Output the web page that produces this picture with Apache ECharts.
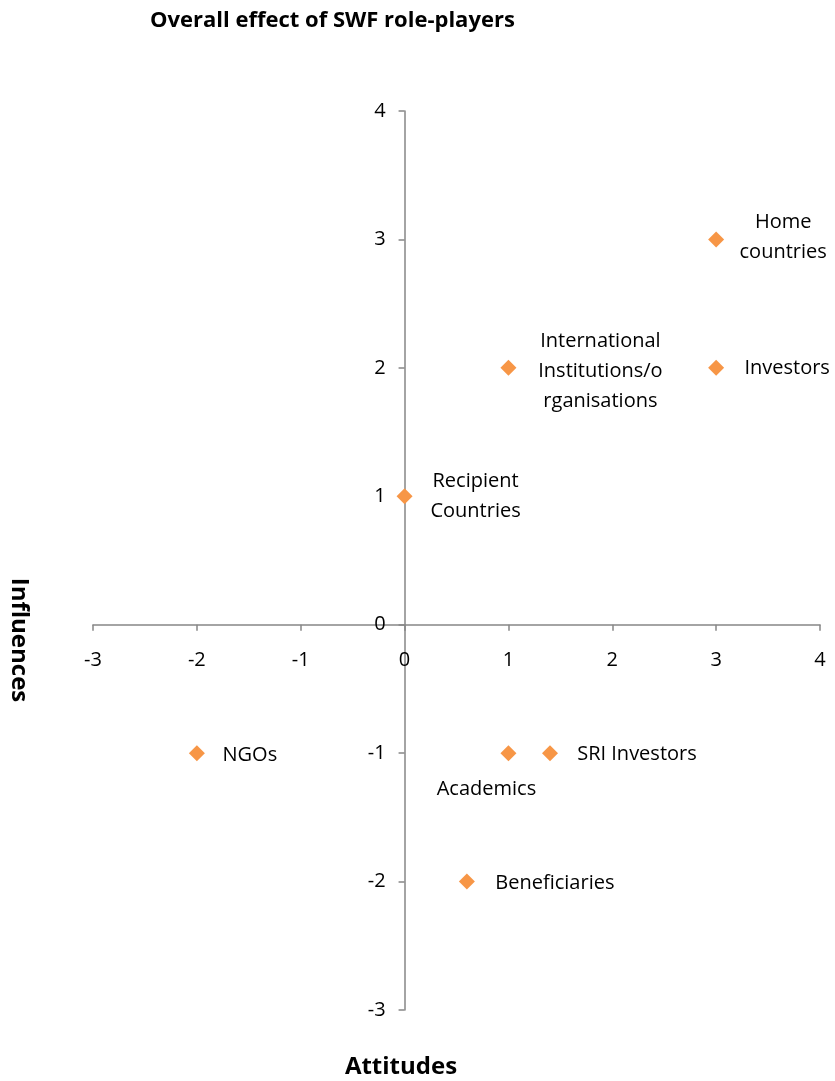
<!DOCTYPE html>
<html>
<head>
<meta charset="utf-8">
<script src="https://cdn.jsdelivr.net/npm/echarts@6/dist/echarts.min.js"></script>
<style>
  html, body { margin: 0; padding: 0; background: #fff; }
  #chart { width: 835px; height: 1081px; }
</style>
</head>
<body>
<div id="chart"></div>
<script>
// Role-players plotted by attitude (x) and influence (y)
const names = ['Home countries', 'Investors', 'International Institutions/o rganisations', 'Recipient Countries', 'NGOs', 'Academics', 'SRI Investors', 'Beneficiaries'];
const labelTexts = ['Home\ncountries', 'Investors', 'International\nInstitutions/o\nrganisations', 'Recipient\nCountries', 'NGOs', 'Academics', 'SRI Investors', 'Beneficiaries'];
const attitudes = [3, 3, 1, 0, -2, 1, 1.4, 0.6];
const influences = [3, 2, 2, 1, -1, -1, -1, -2];
const axisMin = -3, axisMax = 4, axisStep = 1;
// label offsets from each marker, in pixels
const labelOffsets = [[67, -2], [71, 0], [92, 3], [71, 0], [53, 2], [-22, 36], [87, 1], [88, 2]];

const FONT = '"Open Sans", "Liberation Sans", sans-serif';
const AXIS_GREY = '#868686';
const W = 835, H = 1081;
const grid = { left: 93, right: 15, top: 111, bottom: 71 };

// shift both axes so they cross at the origin, labels included
const plotW = W - grid.left - grid.right;
const plotH = H - grid.top - grid.bottom;
const zeroFrac = (0 - axisMin) / (axisMax - axisMin);
const yAxisShift = -plotW * zeroFrac;
const xAxisShift = -plotH * zeroFrac;

const data = names.map((n, i) => ({
  name: n,
  value: [attitudes[i], influences[i]],
  label: {
    show: true,
    position: 'inside',
    offset: labelOffsets[i],
    formatter: labelTexts[i],
    align: 'center',
    verticalAlign: 'middle',
    color: '#000',
    fontFamily: FONT,
    fontSize: 20,
    lineHeight: 30
  }
}));

const chart = echarts.init(document.getElementById('chart'), null, { renderer: 'canvas' });
chart.setOption({
  backgroundColor: '#fff',
  animation: false,
  grid: Object.assign({ containLabel: false }, grid),
  xAxis: {
    type: 'value', min: axisMin, max: axisMax, interval: axisStep,
    offset: xAxisShift,
    splitLine: { show: false },
    axisLine: { show: true, onZero: false, lineStyle: { color: AXIS_GREY, width: 1.5 } },
    axisTick: { show: true, inside: false, length: 6, lineStyle: { color: AXIS_GREY, width: 1.5 } },
    axisLabel: { color: '#000', fontFamily: FONT, fontSize: 20, margin: 26 }
  },
  yAxis: {
    type: 'value', min: axisMin, max: axisMax, interval: axisStep,
    offset: yAxisShift,
    splitLine: { show: false },
    axisLine: { show: true, onZero: false, lineStyle: { color: AXIS_GREY, width: 1.5 } },
    axisTick: { show: true, inside: false, length: 6, lineStyle: { color: AXIS_GREY, width: 1.5 } },
    axisLabel: { color: '#000', fontFamily: FONT, fontSize: 20, margin: 19 }
  },
  series: [{
    type: 'scatter',
    symbol: 'diamond',
    symbolSize: 16,
    itemStyle: { color: '#F79646', opacity: 1 },
    data: data
  }],
  graphic: [
    {
      type: 'text', left: 150, top: 10,
      style: { text: 'Overall effect of SWF role-players', font: 'bold 22px ' + FONT, fill: '#000' }
    },
    {
      type: 'text', x: 19, y: 640, rotation: Math.PI / 2 * -1,
      style: { text: 'Influences', font: 'bold 24px ' + FONT, fill: '#000', align: 'center', verticalAlign: 'middle' }
    },
    {
      type: 'text', x: 401, y: 1067,
      style: { text: 'Attitudes', font: 'bold 24px ' + FONT, fill: '#000', align: 'center', verticalAlign: 'middle' }
    }
  ]
});
</script>
</body>
</html>
